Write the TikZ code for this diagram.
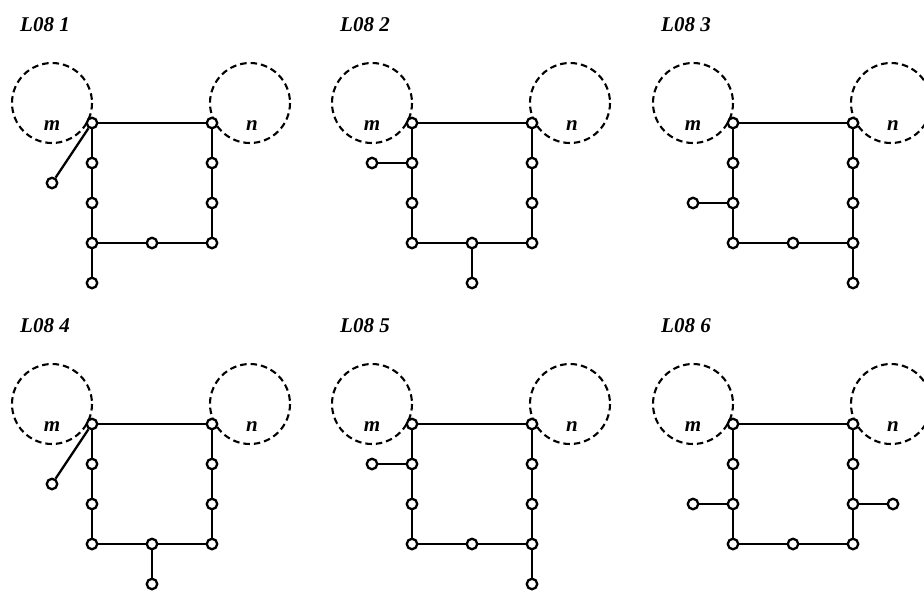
\documentclass[tikz,border=0pt]{standalone}
\usepackage{fontspec}
\setmainfont{Liberation Serif}
\begin{document}
\begin{tikzpicture}[x=1pt,y=-1pt,
  vtx/.style={circle,draw,fill=white,line width=2.3pt,minimum size=10.5pt,inner sep=0pt},
  edge/.style={line width=2.3pt},
  region/.style={line width=2.1pt,dash pattern=on 6.5pt off 4pt},
  ttl/.style={anchor=base west,inner sep=0pt,font=\fontsize{21}{24}\selectfont\bfseries\itshape},
  lbl/.style={anchor=base,inner sep=0pt,font=\fontsize{21}{24}\selectfont\bfseries\itshape}]
\useasboundingbox (0,0) rectangle (924,590);
\newcommand\drawpanel[4]{%
  \begin{scope}[shift={(#2,#3)}]
    \draw[region] (52,103) circle (40);
    \draw[region] (250,103) circle (40);
    \node[ttl] (#1t) at (20,31) {L08 #4};
    \node[lbl] (#1ml) at (52,130) {m};
    \node[lbl] (#1nl) at (252,130) {n};
    \node[vtx] (#1m) at (92,123) {};
    \node[vtx] (#1a1) at (92,163) {};
    \node[vtx] (#1a2) at (92,203) {};
    \node[vtx] (#1a3) at (92,243) {};
    \node[vtx] (#1n) at (212,123) {};
    \node[vtx] (#1b1) at (212,163) {};
    \node[vtx] (#1b2) at (212,203) {};
    \node[vtx] (#1b3) at (212,243) {};
    \node[vtx] (#1c) at (152,243) {};
    \draw[edge] (#1m) -- (#1n);
    \draw[edge] (#1m) -- (#1a1) -- (#1a2) -- (#1a3) -- (#1c) -- (#1b3) -- (#1b2) -- (#1b1) -- (#1n);
  \end{scope}}
\newcommand\pend[5]{%
  \begin{scope}[shift={(#2,#3)}]
    \node[vtx] (#1) at (#4) {};
  \end{scope}
  \draw[edge] (#5) -- (#1);}
% panel 1
\drawpanel{A}{0}{0}{1}
\pend{Ap}{0}{0}{52,183}{Am}
\pend{Aq}{0}{0}{92,283}{Aa3}
% panel 2
\drawpanel{B}{320}{0}{2}
\pend{Bp}{320}{0}{52,163}{Ba1}
\pend{Bq}{320}{0}{152,283}{Bc}
% panel 3
\drawpanel{C}{641}{0}{3}
\pend{Cp}{641}{0}{52,203}{Ca2}
\pend{Cq}{641}{0}{212,283}{Cb3}
% panel 4
\drawpanel{D}{0}{301}{4}
\pend{Dp}{0}{301}{52,183}{Dm}
\pend{Dq}{0}{301}{152,283}{Dc}
% panel 5
\drawpanel{E}{320}{301}{5}
\pend{Ep}{320}{301}{52,163}{Ea1}
\pend{Eq}{320}{301}{212,283}{Eb3}
% panel 6
\drawpanel{F}{641}{301}{6}
\pend{Fp}{641}{301}{52,203}{Fa2}
\pend{Fq}{641}{301}{252,203}{Fb2}
\end{tikzpicture}
\end{document}
